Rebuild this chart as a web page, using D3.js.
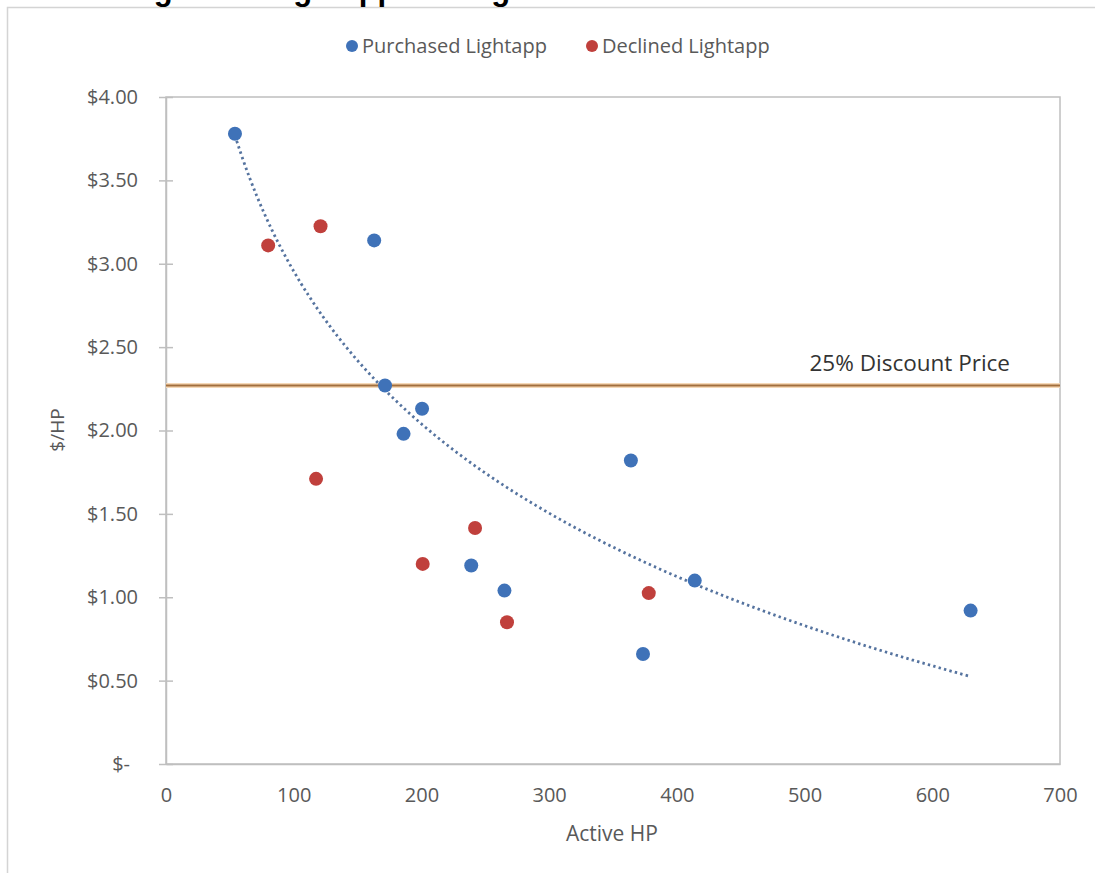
<!DOCTYPE html>
<html>
<head>
<meta charset="utf-8">
<script src="https://cdn.jsdelivr.net/npm/d3@7"></script>
<style>
  html, body { margin: 0; padding: 0; background: #fff; }
  svg { display: block; font-family: "Open Sans", "Noto Sans", sans-serif; }
</style>
</head>
<body>
<svg id="chart" width="1095" height="873"></svg>
<script>
// ---- data ----
const titleText = "Figure 9: Lightapp Pricing at Purchased and Declined Sites";
const seriesNames = ["Purchased Lightapp", "Declined Lightapp"];
const purchasedX = [54, 163, 171.5, 200.5, 186, 364, 239, 265, 414, 373.5, 630];
const purchasedY = [3.78, 3.14, 2.27, 2.13, 1.98, 1.82, 1.19, 1.04, 1.10, 0.66, 0.92];
const declinedX = [80, 121, 117.5, 201, 242, 267, 378];
const declinedY = [3.11, 3.225, 1.71, 1.20, 1.415, 0.85, 1.025];
const discountPrice = 2.27;
const discountLabel = "25% Discount Price";
const xTicks = [0, 100, 200, 300, 400, 500, 600, 700];
const yTicks = [0, 0.5, 1, 1.5, 2, 2.5, 3, 3.5, 4];
const xTitle = "Active HP";
const yTitle = "$/HP";

// ---- setup ----
const svg = d3.select("#chart");
const colors = { blue: "#3f72b8", red: "#c0403c", axis: "#bfbfbf", text: "#595959" };
const x = d3.scaleLinear().domain([0, 700]).range([166, 1060]);
const y = d3.scaleLinear().domain([0, 4]).range([764, 97]);

// outer chart frame (extends off-page right / bottom)
svg.append("rect").attr("x", 7.5).attr("y", 7.5).attr("width", 1200).attr("height", 1000)
  .attr("fill", "#fff").attr("stroke", "#d4d4d4").attr("stroke-width", 1.5);

// title (cut off at top, as in the source image)
svg.append("text").attr("x", 562).attr("y", -0.5).attr("text-anchor", "middle")
  .attr("font-family", "Liberation Sans, Arial, sans-serif").attr("font-weight", "bold")
  .attr("font-size", 31).attr("fill", "#000").text(titleText);

// plot area border
svg.append("rect").attr("x", x(0)).attr("y", y(4)).attr("width", x(700) - x(0)).attr("height", y(0) - y(4))
  .attr("fill", "none").attr("stroke", colors.axis).attr("stroke-width", 1.5);

// y axis
const yAxis = d3.axisLeft(y).tickValues(yTicks).tickSize(0)
  .tickFormat(d => d === 0 ? "$-" : "$" + d3.format(".2f")(d));
const gy = svg.append("g").attr("transform", `translate(${x(0)},0)`).call(yAxis);
gy.select(".domain").attr("stroke", colors.axis).attr("stroke-width", 1.5);
gy.selectAll(".tick text").attr("x", -28).attr("fill", colors.text).attr("font-size", 20)
  .attr("font-family", "Open Sans, sans-serif")
  .attr("dx", d => d === 0 ? -8 : 0);
gy.selectAll(".tick").append("line").attr("x1", -7).attr("x2", 7)
  .attr("stroke", colors.axis).attr("stroke-width", 1.5);

// x axis
const xAxis = d3.axisBottom(x).tickValues(xTicks).tickSize(0).tickFormat(d3.format("d"));
const gx = svg.append("g").attr("transform", `translate(0,${y(0)})`).call(xAxis);
gx.select(".domain").attr("stroke", colors.axis).attr("stroke-width", 1.5);
gx.selectAll(".tick text").attr("y", 24).attr("fill", colors.text).attr("font-size", 20)
  .attr("font-family", "Open Sans, sans-serif");

// axis titles
svg.append("text").attr("x", 612).attr("y", 841).attr("text-anchor", "middle")
  .attr("fill", colors.text).attr("font-size", 21).text(xTitle);
svg.append("text").attr("transform", `translate(64,430) rotate(-90)`).attr("text-anchor", "middle")
  .attr("fill", colors.text).attr("font-size", 19).text(yTitle);

// discount line
svg.append("line").attr("x1", x(0)).attr("x2", x(700)).attr("y1", y(discountPrice)).attr("y2", y(discountPrice))
  .attr("stroke", "#f6d9b8").attr("stroke-width", 5);
svg.append("line").attr("x1", x(0)).attr("x2", x(700)).attr("y1", y(discountPrice)).attr("y2", y(discountPrice))
  .attr("stroke", "#a26f3c").attr("stroke-width", 2.2);
svg.append("text").attr("x", 1010).attr("y", y(discountPrice) - 14).attr("text-anchor", "end")
  .attr("fill", "#333").attr("font-size", 22.5).text(discountLabel);

// logarithmic trendline of the purchased series (least squares on ln x)
const lx = purchasedX.map(Math.log);
const mlx = d3.mean(lx), my = d3.mean(purchasedY);
const b = d3.sum(lx.map((v, i) => (v - mlx) * (purchasedY[i] - my))) / d3.sum(lx.map(v => (v - mlx) ** 2));
const a = my - b * mlx;
const [xmin, xmax] = d3.extent(purchasedX);
const trend = d3.range(0, 101).map(i => {
  const xv = xmin + (xmax - xmin) * i / 100;
  return [xv, a + b * Math.log(xv)];
});
svg.append("path").datum(trend)
  .attr("d", d3.line().x(d => x(d[0])).y(d => y(d[1])).curve(d3.curveBasis))
  .attr("fill", "none").attr("stroke", "#55739f").attr("stroke-width", 2.8)
  .attr("stroke-dasharray", "2.4 3.2");

// points
const purchased = purchasedX.map((v, i) => ({ x: v, y: purchasedY[i] }));
const declined = declinedX.map((v, i) => ({ x: v, y: declinedY[i] }));
svg.append("g").selectAll("circle").data(declined).join("circle")
  .attr("cx", d => x(d.x)).attr("cy", d => y(d.y)).attr("r", 7).attr("fill", colors.red);
svg.append("g").selectAll("circle").data(purchased).join("circle")
  .attr("cx", d => x(d.x)).attr("cy", d => y(d.y)).attr("r", 7).attr("fill", colors.blue);

// legend
const legend = svg.append("g");
const legendItems = [
  { name: seriesNames[0], color: colors.blue, cx: 352 },
  { name: seriesNames[1], color: colors.red, cx: 592 }
];
legendItems.forEach(it => {
  legend.append("circle").attr("cx", it.cx).attr("cy", 46).attr("r", 6).attr("fill", it.color);
  legend.append("text").attr("x", it.cx + 10).attr("y", 53).attr("fill", colors.text)
    .attr("font-size", 20).text(it.name);
});
</script>
</body>
</html>
